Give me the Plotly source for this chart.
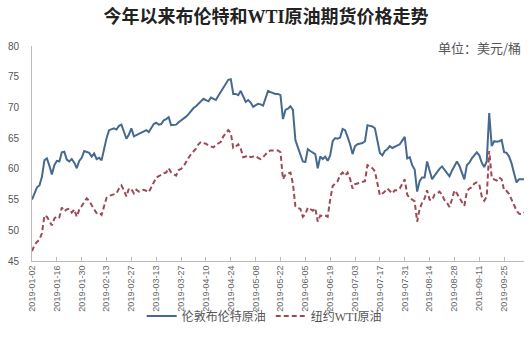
import pandas as pd
import plotly.graph_objects as go

dates = [d.strftime("%Y-%m-%d") for d in pd.bdate_range("2019-01-02", periods=199)]

brent = [
    55.0, 56.0, 57.0, 57.3, 58.7, 61.4, 61.7, 60.5, 59.1, 60.6,
    61.3, 61.2, 62.7, 62.8, 61.5, 61.2, 61.6, 61.0, 60.1, 61.3,
    61.8, 62.9, 62.7, 62.6, 62.0, 62.5, 61.6, 61.8, 61.4, 63.5,
    65.0, 66.3, 66.4, 66.6, 66.4, 67.0, 67.2, 66.2, 64.9, 65.6,
    66.6, 65.3, 65.5, 65.7, 65.8, 66.0, 66.3, 66.0, 66.7, 67.3,
    67.5, 67.2, 67.3, 67.9, 68.1, 68.4, 67.1, 67.2, 67.2, 67.6,
    67.9, 68.1, 68.5, 68.9, 69.4, 69.9, 70.2, 70.6, 70.9, 71.4,
    71.2, 71.0, 71.6, 71.4, 71.2, 71.9, 72.5, 73.2, 73.9, 74.5,
    74.6, 72.2, 72.2, 72.0, 72.7, 71.8, 70.9, 71.2, 70.8, 70.1,
    70.4, 70.6, 70.5, 70.3, 71.5, 72.7, 72.5, 72.3, 72.2, 72.2,
    72.0, 68.1, 69.6, 69.8, 70.2, 69.6, 64.7, 63.5, 62.3, 61.2,
    61.1, 63.2, 62.9, 62.6, 62.4, 60.1, 62.0, 61.6, 62.0, 61.3,
    62.2, 64.5, 65.0, 64.9, 65.1, 66.5, 66.3, 65.2, 64.0, 62.4,
    63.7, 64.0, 64.1, 64.2, 64.5, 67.1, 67.0, 66.9, 66.6, 64.5,
    62.6, 62.2, 62.9, 63.2, 63.7, 63.4, 63.6, 63.8, 64.0, 64.6,
    65.2, 61.7, 61.9, 60.6, 59.9, 56.3, 58.0, 58.6, 58.6, 61.2,
    59.6, 58.3, 58.9, 59.5, 60.0, 60.4, 59.8, 59.3, 58.8, 59.7,
    60.5, 61.2, 60.5, 59.5, 58.3, 60.6, 61.0, 61.7, 62.2, 62.7,
    62.2, 61.0, 60.3, 61.2, 69.1, 63.7, 64.5, 64.4, 64.5, 64.7,
    62.7, 62.6, 62.0, 60.9, 59.3, 57.8, 58.3, 58.3, 58.3,
]

wti = [
    46.6, 47.6, 48.1, 48.5, 49.5, 52.4, 52.2, 51.5, 50.8, 51.9,
    52.3, 52.1, 53.7, 53.1, 53.4, 53.5, 52.9, 53.4, 52.2, 53.3,
    54.0, 54.6, 55.2, 54.8, 54.0, 53.4, 52.8, 52.9, 52.5, 53.8,
    55.3, 55.6, 55.7, 55.9, 56.0, 56.8, 57.3, 56.5, 55.5, 56.8,
    56.7, 56.0, 56.6, 56.3, 56.5, 56.6, 56.4, 56.2, 57.0, 57.9,
    58.6, 58.8, 59.1, 59.3, 59.4, 60.1, 59.4, 59.1, 58.9, 59.8,
    60.0, 60.4, 61.2, 61.8, 62.4, 62.9, 63.3, 64.0, 64.4, 64.2,
    64.1, 63.8, 63.7, 63.5, 63.9, 64.2, 64.4, 65.3, 65.8, 66.3,
    65.8, 63.4, 63.6, 64.0, 63.3, 61.9, 62.0, 62.2, 61.9, 62.0,
    62.1, 61.8, 61.6, 61.9, 62.3, 62.8, 63.0, 63.0, 62.9, 63.0,
    62.7, 58.3, 59.1, 59.2, 59.4, 57.6, 53.9, 53.6, 53.5, 52.2,
    52.6, 53.7, 53.4, 53.2, 53.6, 51.4, 52.4, 52.3, 52.4, 52.2,
    55.0, 57.2, 57.6, 58.0, 59.0, 59.4, 58.9, 59.4, 58.4, 56.8,
    57.5, 57.6, 57.8, 57.9, 58.0, 60.6, 60.3, 60.1, 59.6, 57.8,
    55.7, 56.0, 56.3, 56.8, 56.4, 56.0, 56.5, 56.5, 56.8, 57.6,
    58.3, 55.8, 55.2, 55.0, 54.7, 51.4, 53.5, 54.5, 55.2, 56.5,
    55.0, 54.9, 55.8, 56.0, 56.3, 55.8, 54.9, 54.5, 53.8, 55.0,
    56.5, 56.0, 55.2, 54.6, 54.0, 56.3, 56.8, 57.0, 57.6, 57.8,
    57.5, 55.5, 54.8, 55.5, 62.9, 58.6, 58.3, 58.1, 58.6, 58.3,
    56.5, 56.4, 55.9, 55.0, 54.0, 53.2, 52.7, 52.6, 52.9,
]

tick_labels = [
    "2019-01-02", "2019-01-16", "2019-01-30", "2019-02-13", "2019-02-27",
    "2019-03-13", "2019-03-27", "2019-04-10", "2019-04-24", "2019-05-08",
    "2019-05-22", "2019-06-05", "2019-06-19", "2019-07-03", "2019-07-17",
    "2019-07-31", "2019-08-14", "2019-08-28", "2019-09-11", "2019-09-25",
]
y_ticks = [45, 50, 55, 60, 65, 70, 75, 80]

title_text = "今年以来布伦特和WTI原油期货价格走势"
unit_text = "单位：美元/桶"
name_brent = "伦敦布伦特原油"
name_wti = "纽约WTI原油"

CJK = "Liberation Serif, Noto Sans CJK SC"

fig = go.Figure()
fig.add_trace(go.Scatter(
    x=dates, y=brent, mode="lines", name=name_brent,
    line=dict(color="#46698f", width=2),
))
fig.add_trace(go.Scatter(
    x=dates, y=wti, mode="lines", name=name_wti,
    line=dict(color="#9c4b56", width=2, dash="5px,3px"),
))

fig.update_layout(
    width=532, height=338,
    margin=dict(l=28, r=8, t=46, b=65),
    paper_bgcolor="white", plot_bgcolor="white",
    title=dict(text="<b>" + title_text + "</b>", x=0.5, xanchor="center",
               xref="container", y=1 - 17 / 338, yanchor="middle", yref="container",
               font=dict(family=CJK, size=18, color="#222")),
    showlegend=True,
    legend=dict(orientation="h", x=0.472, xanchor="center", y=-0.2555, yanchor="middle",
                font=dict(family=CJK, size=12, color="#555"),
                bgcolor="rgba(0,0,0,0)", itemwidth=30, tracegroupgap=0),
    annotations=[dict(text=unit_text, xref="paper", yref="paper", x=0.998, y=0.992,
                      xanchor="right", yanchor="middle", showarrow=False,
                      font=dict(family="Noto Sans CJK SC", size=13, color="#555"))],
)
fig.update_xaxes(
    type="category", range=[0, len(dates) - 1],
    tickmode="array", tickvals=tick_labels, ticktext=tick_labels,
    tickangle=-90, tickfont=dict(family="Liberation Sans", size=9, color="#666"),
    showgrid=False, showline=True, linecolor="#bbbbbb", linewidth=1,
    ticks="inside", ticklen=4, tickcolor="#bbbbbb", zeroline=False,
)
fig.update_yaxes(
    range=[45, 80], tickmode="array", tickvals=y_ticks,
    tickfont=dict(family="Liberation Sans", size=10, color="#555"),
    showgrid=False, showline=True, linecolor="#bbbbbb", linewidth=1,
    ticks="", ticklabelstandoff=10, zeroline=False,
)

fig.write_html("out.html")
